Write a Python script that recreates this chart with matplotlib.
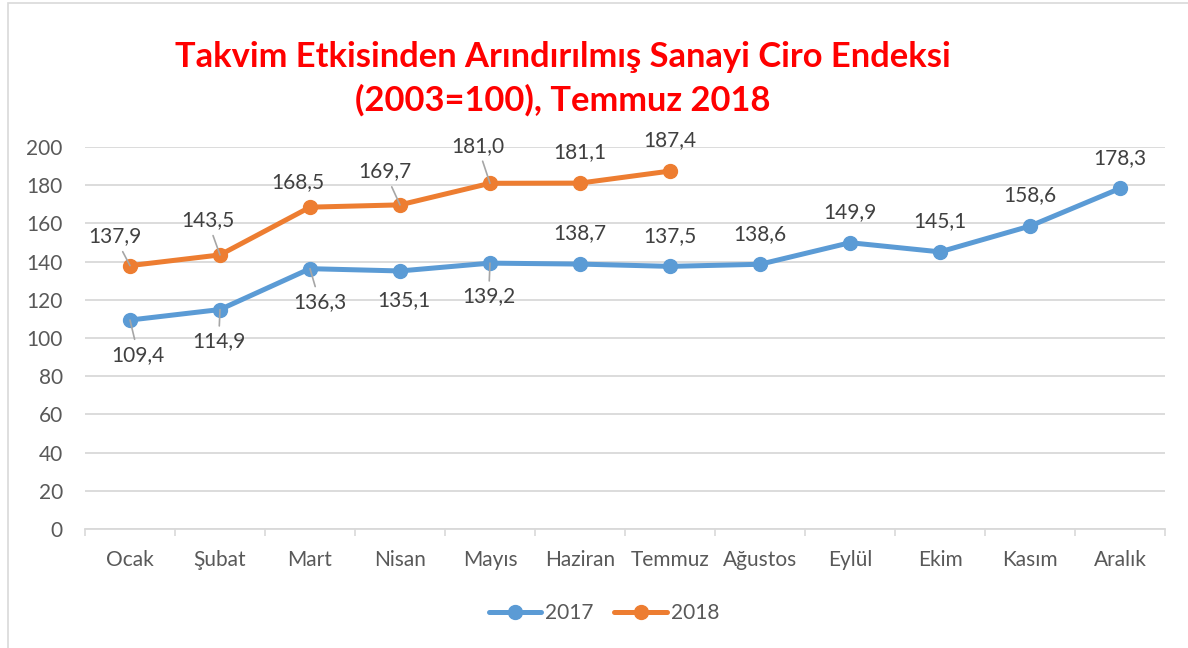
import matplotlib
matplotlib.use('Agg')
import matplotlib.pyplot as plt
from matplotlib.patches import Rectangle
import numpy as np

plt.rcParams['font.family'] = ['Lato', 'DejaVu Sans']

aylar = ['Ocak', 'Şubat', 'Mart', 'Nisan', 'Mayıs', 'Haziran', 'Temmuz',
         'Ağustos', 'Eylül', 'Ekim', 'Kasım', 'Aralık']
y2017 = [109.4, 114.9, 136.3, 135.1, 139.2, 138.7, 137.5, 138.6, 149.9, 145.1, 158.6, 178.3]
y2018 = [137.9, 143.5, 168.5, 169.7, 181.0, 181.1, 187.4]
yticks = [0, 20, 40, 60, 80, 100, 120, 140, 160, 180, 200]

mavi = '#5B9BD5'
turuncu = '#ED7D31'
gri = '#595959'

# etiket kaymalari (punto) ve kilavuz cizgisi
off2017 = [(6, -25, True), (-1, -23, True), (7, -24, True), (3, -21, False), (-1, -24, True)] + [(0, 22, False)] * 7
off2018 = [(-11, 21, True), (-9, 25, True), (-9, 18, False), (-11, 24, True), (-9, 27, True), (0, 22, False), (0, 22, False)]

fig = plt.figure(figsize=(11.88, 6.48), dpi=100)
fig.patches.append(Rectangle((8 / 1188, -0.05), 1.1, 1.05 - 3 / 648, transform=fig.transFigure,
                             fill=False, edgecolor='#D9D9D9', linewidth=1.2))
ax = fig.add_axes([85 / 1188, 119 / 648, 1080 / 1188, 382 / 648])

x = np.arange(len(aylar))
ax.plot(x, y2017, color=mavi, lw=3.6, marker='o', ms=10, label='2017', zorder=3, solid_capstyle='round')
ax.plot(x[:len(y2018)], y2018, color=turuncu, lw=3.6, marker='o', ms=10, label='2018', zorder=3, solid_capstyle='round')

def etiketle(xs, ys, offs):
    for xi, yi, (dx, dy, lead) in zip(xs, ys, offs):
        txt = ('%.1f' % yi).replace('.', ',')
        ap = None
        if lead:
            ap = dict(arrowstyle='-', color='#A6A6A6', lw=1.2, shrinkA=2, shrinkB=0)
        ax.annotate(txt, (xi, yi), xytext=(dx, dy), textcoords='offset points',
                    ha='center', va='center', fontsize=15, color='#404040',
                    arrowprops=ap, zorder=4)

etiketle(x, y2017, off2017)
etiketle(x[:len(y2018)], y2018, off2018)

ax.set_xlim(-0.5, 11.5)
ax.set_ylim(0, 200)
ax.set_yticks(yticks)
ax.set_xticks(x)
ax.set_xticklabels(aylar)
ax.set_xticks(np.arange(-0.5, 12, 1), minor=True)
ax.tick_params(axis='x', which='major', length=0, pad=15, labelsize=15, labelcolor=gri)
ax.tick_params(axis='x', which='minor', length=5, width=1.2, color='#D9D9D9')
ax.tick_params(axis='y', length=0, pad=16, labelsize=15, labelcolor=gri)
ax.grid(axis='y', color='#D9D9D9', lw=1.3)
ax.set_axisbelow(True)
for s in ['top', 'right', 'left']:
    ax.spines[s].set_visible(False)
ax.spines['bottom'].set_color('#D9D9D9')
ax.spines['bottom'].set_linewidth(1.3)

leg = ax.legend(loc='center', bbox_to_anchor=(604 / 1188, 35 / 648), bbox_transform=fig.transFigure,
                ncol=2, frameon=False, fontsize=15, handlelength=2.5, columnspacing=1.0, handletextpad=0.2)
for t in leg.get_texts():
    t.set_color(gri)

fig.text(563 / 1188, 1 - 79 / 648, 'Takvim Etkisinden Arındırılmış Sanayi Ciro Endeksi\n(2003=100), Temmuz 2018',
         ha='center', va='center', fontsize=24.8, fontweight='bold', color='#FF0000', linespacing=1.42)

fig.savefig('out.png', dpi=100)
